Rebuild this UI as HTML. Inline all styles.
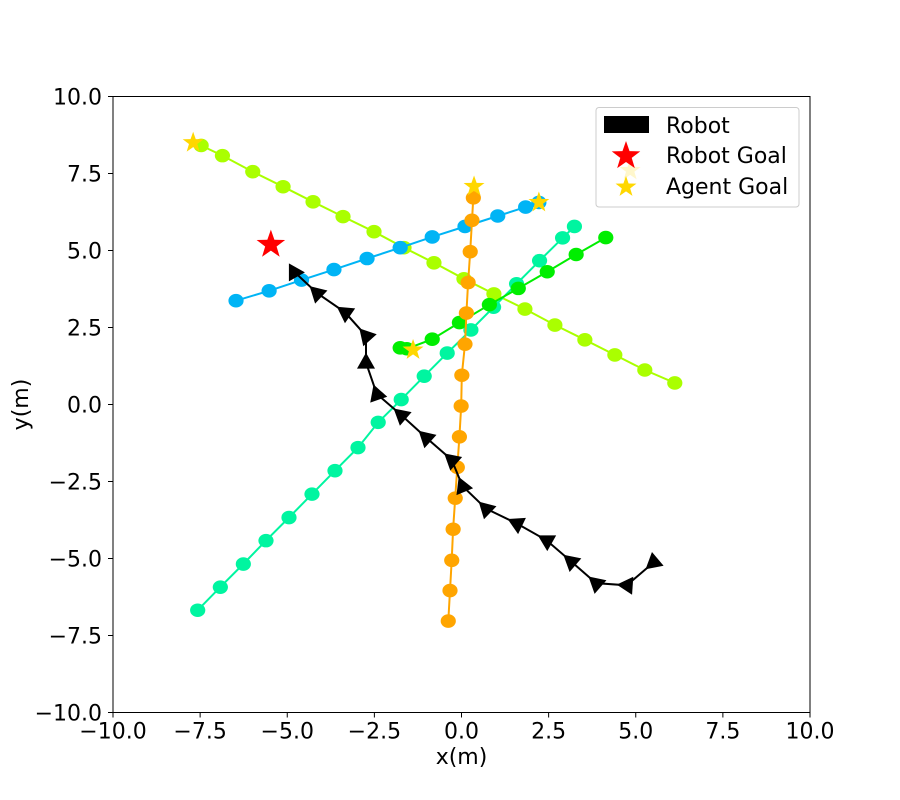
<!DOCTYPE html>
<html><head><meta charset="utf-8"><style>
html,body{margin:0;padding:0;background:#fff;}
svg{display:block;font-family:"DejaVu Sans","Liberation Sans",sans-serif;}
</style></head><body>
<svg id="chart" width="900" height="800" xmlns="http://www.w3.org/2000/svg">
<g id="plot"></g>
<g id="axes"></g>
<g>
  <path d="" id="faintStar"/>
  <rect x="596" y="107.5" width="203" height="99.5" rx="3" fill="#fff" fill-opacity="0.8" stroke="#ccc" stroke-width="1"/>
  <rect x="604" y="116" width="45" height="17" fill="#000"/>
  <text x="666" y="133" font-size="22">Robot</text>
  <path id="lgStar1" fill="red"/>
  <text x="666" y="163" font-size="22">Robot Goal</text>
  <path id="lgStar2" fill="#ffd700"/>
  <text x="666" y="194" font-size="22">Agent Goal</text>
</g>
</svg>
<script>
const xTicks = [-10.0,-7.5,-5.0,-2.5,0.0,2.5,5.0,7.5,10.0];
const yTicks = [-10.0,-7.5,-5.0,-2.5,0.0,2.5,5.0,7.5,10.0];
const tickLabels = ["\u221210.0","\u22127.5","\u22125.0","\u22122.5","0.0","2.5","5.0","7.5","10.0"];

const limeX = [-7.47,-6.86,-5.99,-5.12,-4.26,-3.40,-2.51,-1.65,-0.79,0.07,0.93,1.82,2.68,3.54,4.40,5.26,6.12];
const limeY = [8.41,8.08,7.56,7.07,6.58,6.10,5.61,5.09,4.60,4.08,3.59,3.10,2.58,2.10,1.61,1.12,0.70];
const blueX = [-6.47,-5.52,-4.59,-3.66,-2.71,-1.76,-0.84,0.10,1.04,1.84,2.22];
const blueY = [3.37,3.69,4.04,4.38,4.74,5.09,5.44,5.78,6.12,6.41,6.56];
const orangeX = [-0.38,-0.33,-0.28,-0.24,-0.18,-0.12,-0.06,-0.01,0.01,0.10,0.14,0.19,0.25,0.30,0.34];
const orangeY = [-7.03,-6.04,-5.06,-4.05,-3.04,-2.04,-1.05,-0.05,0.95,1.96,2.97,3.96,4.96,5.98,6.71];
const tealX = [-7.57,-6.92,-6.26,-5.61,-4.95,-4.29,-3.63,-2.97,-2.39,-1.73,-1.07,-0.41,0.27,0.92,1.58,2.24,2.90,3.24];
const tealY = [-6.68,-5.93,-5.18,-4.42,-3.67,-2.91,-2.15,-1.40,-0.58,0.16,0.92,1.67,2.42,3.16,3.92,4.67,5.41,5.78];
const greenX = [-1.76,-1.57,-0.84,-0.06,0.80,1.63,2.46,3.29,4.14];
const greenY = [1.84,1.81,2.12,2.66,3.24,3.77,4.31,4.87,5.42];
const robotX = [-4.78,-4.15,-3.34,-2.74,-2.74,-2.43,-1.73,-1.02,-0.28,0.03,0.70,1.58,2.44,3.14,3.86,4.74,5.50];
const robotY = [4.29,3.62,2.99,2.23,1.36,0.34,-0.34,-1.07,-1.80,-2.65,-3.38,-3.86,-4.41,-5.09,-5.80,-5.87,-5.14];
const goalX = [-7.70,2.22,0.36,-1.39,4.84];
const goalY = [8.50,6.56,7.08,1.77,7.60];
const robotGoal = [-5.47,5.19];

const L=113,R=810,T=96.5,B=712.5;
const sx = v => L + (v+10)/20*(R-L);
const sy = v => B - (v+10)/20*(B-T);
const NS='http://www.w3.org/2000/svg';
function mk(tag, parent, attrs){const e=document.createElementNS(NS,tag);for(const k in attrs)e.setAttribute(k,attrs[k]);parent.appendChild(e);return e;}
function starPath(cx,cy,r){let d='';for(let i=0;i<10;i++){const rr=i%2?r*0.4:r;const a=-Math.PI/2+i*Math.PI/5;d+=(i?'L':'M')+(cx+rr*Math.cos(a)).toFixed(2)+','+(cy+rr*Math.sin(a)).toFixed(2);}return d+'Z';}

const plot=document.getElementById('plot');
const axes=document.getElementById('axes');

document.getElementById('faintStar').setAttribute('d',starPath(sx(goalX[4]),sy(goalY[4]),11));
document.getElementById('faintStar').setAttribute('fill','#ffd700');
document.getElementById('lgStar1').setAttribute('d',starPath(626,156,15));
document.getElementById('lgStar2').setAttribute('d',starPath(626,187,11));

const series=[
  {name:'lime-agent',xs:limeX,ys:limeY,c:'#aaff00'},
  {name:'teal-agent',xs:tealX,ys:tealY,c:'#00f5a0'},
  {name:'green-agent',xs:greenX,ys:greenY,c:'#00ee00'},
  {name:'blue-agent',xs:blueX,ys:blueY,c:'#00b4f5'},
  {name:'orange-agent',xs:orangeX,ys:orangeY,c:'#ffa500'}
];
series.forEach(s=>{
  const g=mk('g',plot,{});
  
  
  const pts=s.xs.map((x,i)=>sx(x).toFixed(1)+','+sy(s.ys[i]).toFixed(1)).join(' ');
  const pl=mk('polyline',g,{points:pts,fill:'none',stroke:s.c,'stroke-width':2});
  
  
  s.xs.forEach((x,i)=>{
    const e=mk('ellipse',g,{cx:sx(x),cy:sy(s.ys[i]),rx:7.6,ry:6.8,fill:s.c});
    
    
  });
});

const rg=mk('g',plot,{});


const rl=mk('polyline',rg,{points:robotX.map((x,i)=>sx(x).toFixed(1)+','+sy(robotY[i]).toFixed(1)).join(' '),fill:'none',stroke:'#000','stroke-width':2});


robotX.forEach((x,i)=>{
  const px=sx(x),py=sy(robotY[i]);
  let ang=0;
  if(i>0){ang=Math.atan2(sy(robotY[i-1])-py, sx(robotX[i-1])-px);}
  const deg=ang*180/Math.PI;
  const t=mk('polygon',rg,{points:'10,0 -6,-9 -6,9',fill:'#000',transform:`translate(${px.toFixed(1)},${py.toFixed(1)}) rotate(${deg.toFixed(1)})`});
  
  
});

goalX.slice(0,4).forEach((x,i)=>{
  const s=mk('path',plot,{d:starPath(sx(x),sy(goalY[i]),11),fill:'#ffd700'});
  
  
});
const rs=mk('path',plot,{d:starPath(sx(robotGoal[0]),sy(robotGoal[1]),15),fill:'red'});



const fr=mk('rect',axes,{x:L,y:T,width:R-L,height:B-T,fill:'none',stroke:'#000','stroke-width':1});


xTicks.forEach((v,i)=>{
  const X=sx(v);
  const tl=mk('line',axes,{x1:X,y1:B,x2:X,y2:B+5,stroke:'#000'});
  
  
  const t=mk('text',axes,{x:X,y:B+26,'font-size':22,'text-anchor':'middle'});
  t.textContent=tickLabels[i];
  
  
});
yTicks.forEach((v,i)=>{
  const Y=sy(v);
  const tl=mk('line',axes,{x1:L-5,y1:Y,x2:L,y2:Y,stroke:'#000'});
  
  
  const t=mk('text',axes,{x:L-11,y:Y+8,'font-size':22,'text-anchor':'end'});
  t.textContent=tickLabels[i];
  
  
});
const xt=mk('text',axes,{x:(L+R)/2,y:764,'font-size':22,'text-anchor':'middle'});
xt.textContent='x(m)';


const yt=mk('text',axes,{x:0,y:0,'font-size':22,'text-anchor':'middle',transform:`translate(28,${(T+B)/2}) rotate(-90)`});
yt.textContent='y(m)';


</script>
</body></html>
